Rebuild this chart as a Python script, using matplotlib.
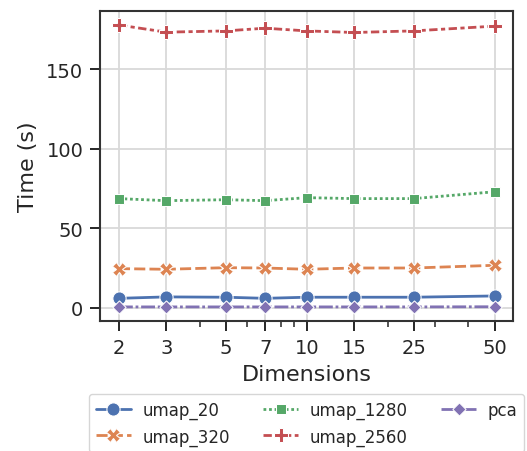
import matplotlib
matplotlib.use("Agg")
import matplotlib.pyplot as plt
import seaborn as sns
import pandas as pd
from matplotlib.ticker import FixedLocator, NullFormatter

dims = [2, 3, 5, 7, 10, 15, 25, 50]
umap_20 = [5.9, 6.8, 6.6, 5.9, 6.6, 6.6, 6.6, 7.4]
umap_320 = [24.6, 24.2, 25.2, 25.0, 24.2, 25.0, 25.0, 26.7]
umap_1280 = [68.7, 67.4, 68.0, 67.4, 69.3, 68.7, 68.7, 73.0]
umap_2560 = [178.0, 173.5, 174.3, 176.0, 174.3, 173.3, 174.3, 177.3]
pca = [0.5, 0.5, 0.5, 0.5, 0.5, 0.5, 0.5, 0.6]
methods = ["umap_20", "umap_320", "umap_1280", "umap_2560", "pca"]
series = [umap_20, umap_320, umap_1280, umap_2560, pca]

rows = []
for m, vals in zip(methods, series):
    for d, v in zip(dims, vals):
        rows.append({"Dimensions": d, "Time (s)": v, "method": m})
df = pd.DataFrame(rows)

sns.set_theme(style="ticks", rc={"axes.grid": True})
fig = plt.figure(figsize=(5.27, 4.52), dpi=100)
ax = fig.add_axes([0.19, 0.2876, 0.784, 0.686])
sns.lineplot(data=df, x="Dimensions", y="Time (s)", hue="method", style="method",
             markers=True, dashes=True, markersize=9.5, linewidth=2.0, ax=ax,
             hue_order=methods, style_order=methods)
ax.set_xscale("log")
ax.xaxis.set_major_locator(FixedLocator(dims))
ax.set_xticklabels([str(d) for d in dims])
ax.xaxis.set_minor_locator(FixedLocator([4, 6, 8, 9, 20, 30, 40]))
ax.xaxis.set_minor_formatter(NullFormatter())
ax.grid(True, which="major", color="#d9d9d9", linewidth=1.3)
ax.grid(False, which="minor")
ax.set_yticks([0, 50, 100, 150])
ax.tick_params(axis="both", which="major", labelsize=14, length=7, width=1.4, pad=5)
ax.tick_params(axis="x", which="minor", length=4.5, width=1.1)
ax.set_xlabel("Dimensions", fontsize=16, labelpad=5)
ax.set_ylabel("Time (s)", fontsize=16, labelpad=6)
for s in ax.spines.values():
    s.set_linewidth(1.5)
    s.set_color("#333333")
handles, labels = ax.get_legend_handles_labels()
ax.legend(handles, labels, loc="upper left",
          bbox_to_anchor=(89 / 527, 1 - 395 / 452), bbox_transform=fig.transFigure,
          ncol=3, fontsize=12, frameon=True, borderaxespad=0.0,
          handlelength=2.1, handletextpad=0.7, columnspacing=2.0)
fig.savefig("out.png", dpi=100)
